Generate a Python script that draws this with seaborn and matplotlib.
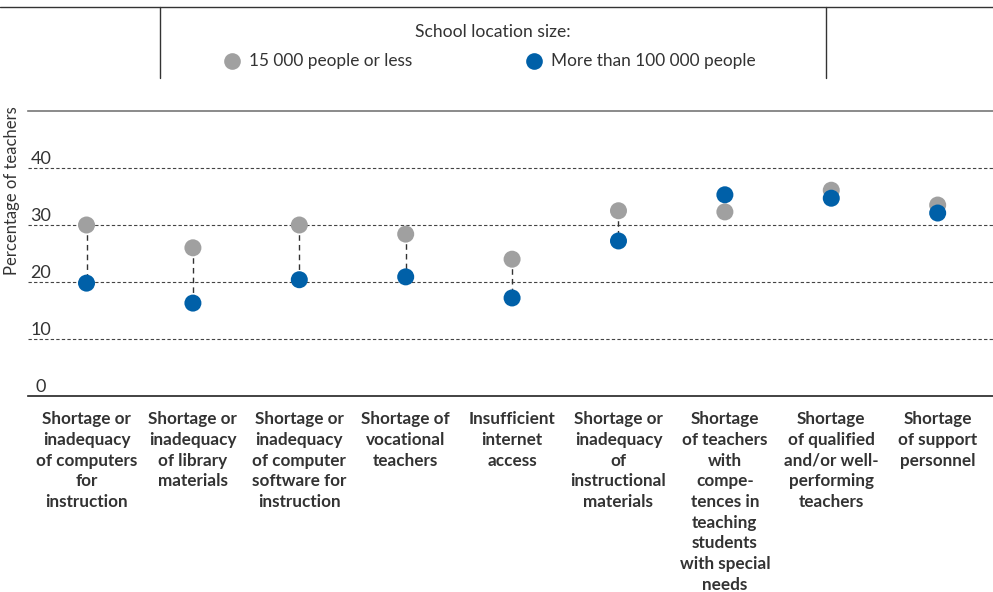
import numpy as np
import pandas as pd
import matplotlib
matplotlib.use("Agg")
import matplotlib.pyplot as plt
from matplotlib.lines import Line2D
import seaborn as sns

# Data
categories = [
    "Shortage or\ninadequacy\nof computers\nfor\ninstruction",
    "Shortage or\ninadequacy\nof library\nmaterials",
    "Shortage or\ninadequacy\nof computer\nsoftware for\ninstruction",
    "Shortage of\nvocational\nteachers",
    "Insufficient\ninternet\naccess",
    "Shortage or\ninadequacy\nof\ninstructional\nmaterials",
    "Shortage\nof teachers\nwith\ncompe-\ntences in\nteaching\nstudents\nwith special\nneeds",
    "Shortage\nof qualified\nand/or well-\nperforming\nteachers",
    "Shortage\nof support\npersonnel",
]
small_town = [30.0, 26.0, 30.0, 28.4, 24.0, 32.5, 32.3, 36.1, 33.5]
big_city = [19.8, 16.3, 20.4, 20.9, 17.2, 27.2, 35.3, 34.7, 32.1]
y_ticks = [0, 10, 20, 30, 40]
series_names = ["15 000 people or less", "More than 100 000 people"]

GRAY = "#a0a0a0"
BLUE = "#0060a8"
TEXT = "#333333"

sns.set_theme(style="white")
plt.rcParams["font.family"] = ["Lato", "DejaVu Sans"]

df = pd.DataFrame({
    "pos": list(range(len(categories))) * 2,
    "value": small_town + big_city,
    "group": [series_names[0]] * len(categories) + [series_names[1]] * len(categories),
})

fig = plt.figure(figsize=(9.93, 5.92), dpi=100)
ax = fig.add_axes([28 / 993, 1 - 396 / 592, 1 - 28 / 993, (396 - 111) / 592])

# connectors between the two groups
ax.vlines(range(len(categories)), small_town, big_city, colors="#333333",
          linestyles=(0, (4, 3)), linewidth=1.0, zorder=1)

sns.scatterplot(data=df, x="pos", y="value", hue="group",
                palette={series_names[0]: GRAY, series_names[1]: BLUE},
                s=150, edgecolor="none", legend=False, ax=ax, zorder=3)

ax.set_xlim(-0.55, 8.52)
ax.set_ylim(0, 50)

# gridlines
for t in y_ticks[1:]:
    ax.axhline(t, color="#444444", linestyle=(0, (3, 2)), linewidth=0.8, zorder=0)
for t in y_ticks:
    ax.text(13 / 965, t + 0.15, str(t), transform=ax.get_yaxis_transform(),
            ha="center", va="bottom", fontsize=13, color=TEXT)

for side in ["left", "right"]:
    ax.spines[side].set_visible(False)
ax.spines["top"].set_color("#777777")
ax.spines["top"].set_linewidth(1.2)
ax.spines["bottom"].set_color("#222222")
ax.spines["bottom"].set_linewidth(1.2)

ax.set_yticks([])
ax.set_xticks(range(len(categories)))
ax.set_xticklabels(categories, fontsize=12.3, fontweight="bold", color=TEXT,
                   linespacing=1.36, va="top")
ax.tick_params(axis="x", length=0, pad=11)
ax.set_xlabel("")
ax.set_ylabel("")

fig.text(12 / 993, 1 - 191 / 592, "Percentage of teachers", rotation=90,
         ha="center", va="center", fontsize=12, color=TEXT)

# legend frame lines
fig.add_artist(Line2D([0, 1], [1 - 7 / 592, 1 - 7 / 592], color="#333333", linewidth=1.0))
for xp in (160, 826):
    fig.add_artist(Line2D([xp / 993, xp / 993], [1 - 7 / 592, 1 - 78 / 592],
                          color="#333333", linewidth=1.0))

fig.text(493 / 993, 1 - 32 / 592, "School location size:", ha="center", va="center",
         fontsize=12.6, color=TEXT)
legend_items = [(232, GRAY, series_names[0]), (534, BLUE, series_names[1])]
for xp, col, lab in legend_items:
    fig.add_artist(Line2D([xp / 993], [1 - 61 / 592], marker="o", markersize=12,
                          color=col, markeredgewidth=0, linestyle="none"))
    fig.text((xp + 17) / 993, 1 - 61 / 592, lab, ha="left", va="center",
             fontsize=12.4, color=TEXT)

fig.savefig("out.png", dpi=100)
